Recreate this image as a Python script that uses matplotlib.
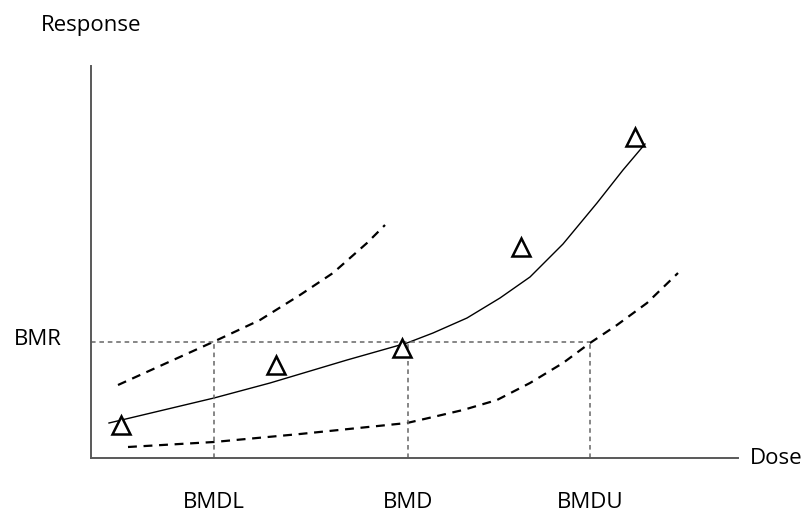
import matplotlib.pyplot as plt

plt.rcParams['font.family'] = ['Open Sans', 'DejaVu Sans']

# observed data (dose, response)
obs_dose = [30, 185, 311, 430, 544]
obs_resp = [33, 93, 110, 211, 321]

# fitted model curve
fit_dose = [18, 60, 123, 179, 256, 316, 342, 376, 409, 439, 472, 506, 532, 554]
fit_resp = [35, 45, 60, 75, 98, 115, 125, 140, 160, 181, 214, 255, 288, 314]

# upper / lower confidence curves
upper_dose = [27, 122, 169, 209, 242, 276, 294]
upper_resp = [73, 116, 138, 163, 185, 215, 233]
lower_dose = [37, 123, 209, 316, 342, 372, 406, 439, 472, 499, 526, 556, 587]
lower_resp = [11, 16, 24, 35, 41, 48, 58, 75, 95, 115, 133, 155, 185]

bmr = 116
bmd_pos = [123, 317, 499]
bmd_labels = ['BMDL', 'BMD', 'BMDU']

fig = plt.figure(figsize=(8.07, 5.11), dpi=100)
ax = fig.add_axes([91 / 807, 53 / 511, 647 / 807, 392 / 511])
ax.set_xlim(0, 647)
ax.set_ylim(0, 392)

ax.plot(fit_dose, fit_resp, color='black', lw=1.0)
ax.plot(upper_dose, upper_resp, color='black', lw=1.6, dashes=(4, 3))
ax.plot(lower_dose, lower_resp, color='black', lw=1.6, dashes=(4, 3))

grey = '#666666'
ax.plot([0, bmd_pos[2]], [bmr, bmr], color=grey, lw=1.1, dashes=(3, 2.5))
for x in bmd_pos:
    ax.plot([x, x], [0, bmr], color=grey, lw=1.1, dashes=(3, 2.5))

ax.plot(obs_dose, obs_resp, linestyle='none', marker='^', markersize=13,
        markerfacecolor='white', markeredgecolor='black', markeredgewidth=1.8)

for s in ['top', 'right']:
    ax.spines[s].set_visible(False)
for s in ['left', 'bottom']:
    ax.spines[s].set_color('#595959')
    ax.spines[s].set_linewidth(1.4)
ax.set_xticks([])
ax.set_yticks([])

fs = 16
for x, lab in zip(bmd_pos, bmd_labels):
    ax.text(x, -44, lab, ha='center', va='center', fontsize=fs, clip_on=False)
ax.text(-29, 119, 'BMR', ha='right', va='center', fontsize=fs, clip_on=False)
ax.text(659, 0, 'Dose', ha='left', va='center', fontsize=fs, clip_on=False)
ax.text(0, 433, 'Response', ha='center', va='center', fontsize=fs, clip_on=False)

fig.savefig('out.png', dpi=100)
